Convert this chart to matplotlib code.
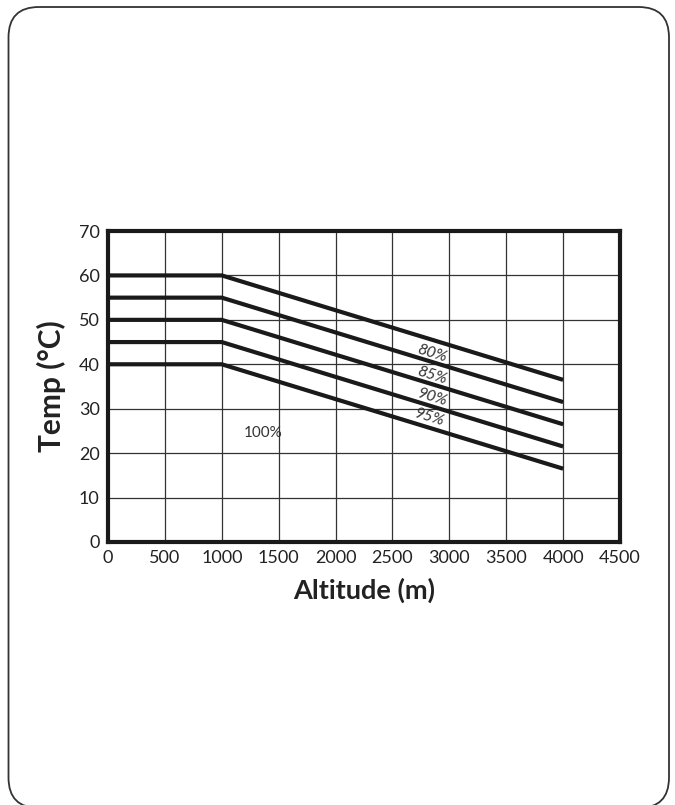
import matplotlib
matplotlib.use("Agg")
import matplotlib.pyplot as plt
from matplotlib.patches import FancyBboxPatch

# Data
altitude = [0, 1000, 4000]
series_labels = ["80%", "85%", "90%", "95%", "100%"]
temp_80 = [60, 60, 36.5]
temp_85 = [55, 55, 31.5]
temp_90 = [50, 50, 26.5]
temp_95 = [45, 45, 21.5]
temp_100 = [40, 40, 16.5]
label_x = [2850, 2850, 2850, 2820, 1360]
label_y = [42.3, 37.5, 32.4, 27.9, 24.5]
x_ticks = [0, 500, 1000, 1500, 2000, 2500, 3000, 3500, 4000, 4500]
y_ticks = [0, 10, 20, 30, 40, 50, 60, 70]

plt.rcParams['font.family'] = ['Lato', 'DejaVu Sans']

W, H = 675, 805
fig = plt.figure(figsize=(W/100, H/100), dpi=100)

# rounded frame (bottom edge falls just outside the image)
frame = FancyBboxPatch((8.5/W, 1 - 808/H), (669-8.5)/W, (808-7)/H,
                       boxstyle="round,pad=0,rounding_size=0.045",
                       transform=fig.transFigure, fill=False,
                       edgecolor="#333333", linewidth=1.3,
                       mutation_aspect=W/H)
fig.patches.append(frame)

left, right, top, bottom = 108, 620, 231, 542
ax = fig.add_axes([left/W, 1 - bottom/H, (right-left)/W, (bottom-top)/H])

for s in (temp_80, temp_85, temp_90, temp_95, temp_100):
    ax.plot(altitude, s, color="#1a1a1a", linewidth=3.0, solid_capstyle="butt", zorder=3)

ax.set_xlim(0, 4500)
ax.set_ylim(0, 70)
ax.set_xticks(x_ticks)
ax.set_yticks(y_ticks)
ax.grid(True, color="#333333", linewidth=0.9)
ax.tick_params(length=0, colors="#222222", pad=6, labelsize=13)
for sp in ax.spines.values():
    sp.set_linewidth(3)
    sp.set_color("#1a1a1a")

for lab, lx, ly in zip(series_labels, label_x, label_y):
    if lab == "100%":
        ax.text(lx, ly, lab, fontsize=11, ha="center", va="center", color="#333333")
    else:
        ax.text(lx, ly, lab, fontsize=11.5, ha="center", va="center", color="#333333",
                rotation=-17, style="italic")

ax.set_xlabel("Altitude (m)", fontsize=19.5, fontweight="bold", color="#222222", labelpad=8)
ax.set_ylabel("Temp (°C)", fontsize=21.5, fontweight="bold", color="#222222", labelpad=9)

fig.savefig("out.png", dpi=100)
